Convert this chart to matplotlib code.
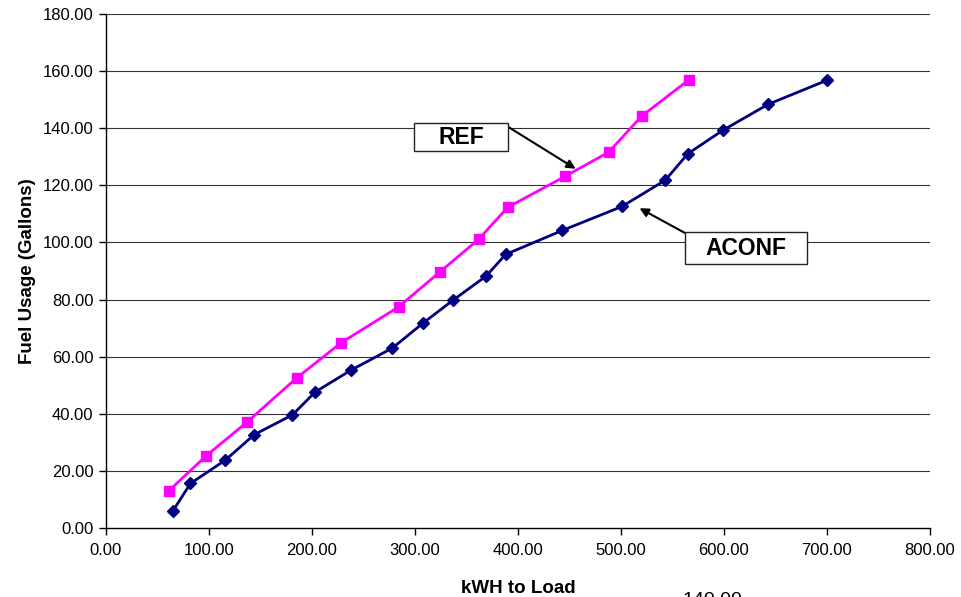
import numpy as np
import matplotlib
matplotlib.use("Agg")
from matplotlib import pyplot as plt
from matplotlib.patches import Rectangle
from matplotlib.ticker import MultipleLocator, FormatStrFormatter

plt.rcParams['font.family'] = ['Liberation Sans', 'DejaVu Sans']

# data
ref_kwh = [61, 97, 137, 185, 228, 284, 324, 362, 390, 446, 488, 520, 566]
ref_fuel = [13.0, 25.2, 37.1, 52.5, 64.8, 77.4, 89.6, 101.2, 112.3, 123.2, 131.6, 144.2, 157.0]

aconf_kwh = [65, 82, 116, 144, 181, 203, 238, 278, 308, 337, 369, 388,
             443, 501, 543, 565, 599, 643, 700]
aconf_fuel = [6.0, 15.6, 23.8, 32.7, 39.6, 47.6, 55.3, 63.0, 71.8, 79.8, 88.2, 95.8,
              104.2, 112.6, 121.8, 131.1, 139.3, 148.4, 156.8]

x_ticks = np.arange(0, 801, 100)
y_ticks = np.arange(0, 181, 20)

fig = plt.figure(figsize=(9.61, 5.97), dpi=100)
ax = fig.add_axes([0.1103, 0.1156, 0.8574, 0.8609])

for y in y_ticks[1:]:
    ax.axhline(y, color='#333333', lw=0.8, zorder=1)

ax.plot(aconf_kwh, aconf_fuel, color='#000080', lw=2, marker='D', ms=6.5,
        zorder=3, clip_on=False)
ax.plot(ref_kwh, ref_fuel, color='#FF00FF', lw=2, marker='s', ms=7.5,
        zorder=3, clip_on=False)

ax.set_xlim(0, 800)
ax.set_ylim(0, 180)
ax.xaxis.set_major_locator(MultipleLocator(100))
ax.yaxis.set_major_locator(MultipleLocator(20))
ax.xaxis.set_major_formatter(FormatStrFormatter('%.2f'))
ax.yaxis.set_major_formatter(FormatStrFormatter('%.2f'))
ax.tick_params(direction='out', length=5, width=1, labelsize=12, pad=4)
ax.tick_params(axis='x', pad=6)
for s in ['top', 'right']:
    ax.spines[s].set_visible(False)
for s in ['left', 'bottom']:
    ax.spines[s].set_linewidth(1)

ax.set_xlabel('kWH to Load', fontsize=13.5, fontweight='bold', labelpad=16)
ax.set_ylabel('Fuel Usage (Gallons)', fontsize=13.5, fontweight='bold', labelpad=5)

# callout boxes (data coords)
def callout(label, x0, x1, y0, y1, start, end):
    ax.add_patch(Rectangle((x0, y0), x1 - x0, y1 - y0, facecolor='white',
                           edgecolor='#222222', lw=1, zorder=5))
    ax.text((x0 + x1) / 2, (y0 + y1) / 2, label, ha='center', va='center',
            fontsize=16.5, fontweight='bold', zorder=6)
    ax.annotate('', xy=end, xytext=start, zorder=4,
                arrowprops=dict(arrowstyle='-|>', color='black', lw=1.5,
                                mutation_scale=13, shrinkA=0, shrinkB=0))

callout('REF', 299, 390.5, 132.0, 141.8, (389.5, 140.7), (456, 125.8))
callout('ACONF', 561.7, 680.2, 92.4, 103.6, (561.7, 103.4), (518, 112))

# stray label clipped at the bottom edge (also clipped in the original)
fig.text(683 / 961, 1 - 592 / 597, '140.00', fontsize=14, va='top', ha='left')

fig.savefig('out.png', dpi=100)
